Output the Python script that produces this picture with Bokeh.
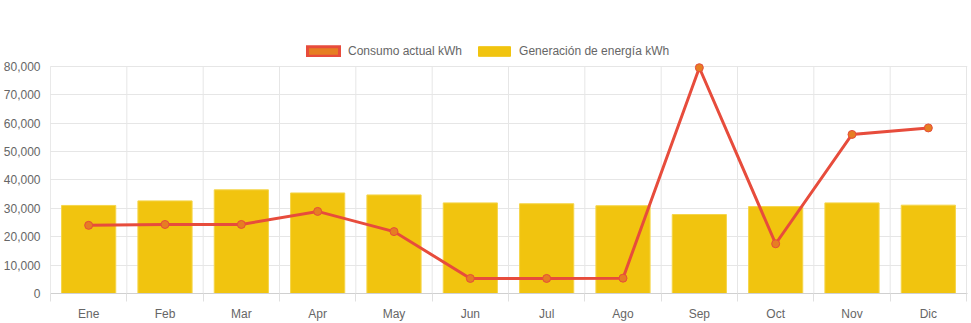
from bokeh.plotting import figure
from bokeh.models import (ColumnDataSource, FixedTicker, NumeralTickFormatter, Legend,
                          LegendItem, Range1d)
from bokeh.embed import file_html
from bokeh.resources import INLINE

months = ["Ene", "Feb", "Mar", "Apr", "May", "Jun", "Jul", "Ago", "Sep", "Oct", "Nov", "Dic"]
consumo = [24000, 24300, 24300, 28900, 21800, 5300, 5300, 5400, 79500, 17500, 56000, 58300]
generacion = [31000, 32600, 36500, 35400, 34700, 31900, 31600, 30900, 27800, 30600, 31900, 31100]
y_ticks = [0, 10000, 20000, 30000, 40000, 50000, 60000, 70000, 80000]

FONT = "Liberation Sans"
n = len(months)
xc = [i + 0.5 for i in range(n)]
bounds = list(range(n + 1))
src = ColumnDataSource(dict(x=xc, m=months, c=consumo, g=generacion))

# layout constants (pixels)
W, H = 971, 323
LEFT, BOTTOM = 50, 29
FRAME_W = W - LEFT - 4          # 917
FRAME_H = H - BOTTOM            # 294
PLOT_TOP = 66                   # y pixel of the top tick
ymax = y_ticks[-1]
y_end = ymax * FRAME_H / (FRAME_H - PLOT_TOP)
x_end = n * FRAME_W / (FRAME_W - 1)

p = figure(width=W, height=H, output_backend="svg", toolbar_location=None,
           x_range=Range1d(0, x_end), y_range=Range1d(0, y_end),
           min_border_left=LEFT, min_border_right=4, min_border_top=0, min_border_bottom=BOTTOM)
p.outline_line_color = None
p.background_fill_color = "white"
p.border_fill_color = "white"
p.xgrid.grid_line_color = None
p.ygrid.ticker = FixedTicker(ticks=y_ticks)
p.ygrid.grid_line_color = "#e6e6e6"

# vertical grid lines (category boundaries), limited to the value range
p.segment(x0=bounds[1:], y0=[0] * n, x1=bounds[1:], y1=[ymax] * n,
          line_color="#e6e6e6", line_width=1)
p.segment(x0=[0], y0=[0], x1=[0], y1=[ymax], line_color="#d4d4d4", line_width=1)

bars = p.vbar(x="x", top="g", width=0.71, source=src, fill_color="#F1C40F",
              line_color="#F5D54A", line_width=1)

# legend proxies: zero-size boxes at the data points (nothing visible)
proxy_g = p.quad(left="x", right="x", top="g", bottom="g", source=src,
                 fill_color="#F1C40F", line_color="#F1C40F", line_width=1,
                 line_join="miter")
proxy_c = p.quad(left="x", right="x", top="c", bottom="c", source=src,
                 fill_color="#E67E22", line_color="#E74C3C", line_width=3,
                 line_join="miter")

line = p.line(x="x", y="c", source=src, line_color="#E74C3C", line_width=3,
              line_join="miter")
pts = p.scatter(x="x", y="c", source=src, size=8, fill_color="#E67E22",
                line_color="#E74C3C", line_width=1)

legend = Legend(items=[LegendItem(label="Consumo actual kWh", renderers=[proxy_c]),
                       LegendItem(label="Generación de energía kWh", renderers=[proxy_g])],
                orientation="horizontal", location=(253, FRAME_H - 59))
legend.glyph_width = 40
legend.glyph_height = 12
legend.label_text_font = FONT
legend.label_text_font_size = "12px"
legend.label_text_color = "#666666"
legend.label_standoff = 5
legend.spacing = 12
legend.padding = 0
legend.margin = 0
legend.border_line_color = None
legend.background_fill_alpha = 0
legend.label_height = 12
p.add_layout(legend, "center")

# axes
p.xaxis.ticker = FixedTicker(ticks=xc, minor_ticks=bounds)
p.xaxis.major_label_overrides = {x: m for x, m in zip(xc, months)}
p.xaxis.major_tick_line_color = None
p.xaxis.major_tick_out = 0
p.xaxis.major_tick_in = 0
p.xaxis.minor_tick_line_color = "#e0e0e0"
p.xaxis.minor_tick_out = 8
p.xaxis.minor_tick_in = 0
p.xaxis.major_label_standoff = 5
p.xaxis.axis_line_color = "#d0d0d0"

p.yaxis.ticker = FixedTicker(ticks=y_ticks)
p.yaxis.formatter = NumeralTickFormatter(format="0,0")
p.yaxis.major_tick_line_color = None
p.yaxis.minor_tick_line_color = None
p.yaxis.major_tick_out = 0
p.yaxis.major_label_standoff = 10
p.yaxis.axis_line_color = None

for ax in (p.xaxis, p.yaxis):
    ax.major_label_text_font = FONT
    ax.major_label_text_font_size = "12px"
    ax.major_label_text_color = "#666666"

open("out.html", "w").write(file_html(p, INLINE))
